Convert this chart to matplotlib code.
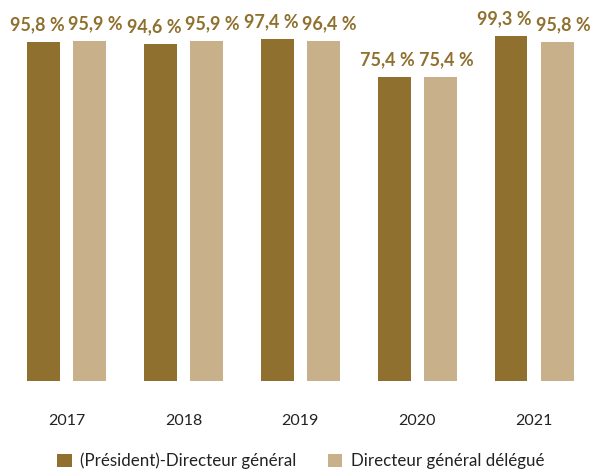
import matplotlib.pyplot as plt
from matplotlib.patches import Patch
import numpy as np

# Taux d'approbation des rémunérations
years = ["2017", "2018", "2019", "2020", "2021"]
pdg = [95.8, 94.6, 97.4, 75.4, 99.3]
dgd = [95.9, 95.9, 96.4, 75.4, 95.8]
series_names = ["(Président)-Directeur général", "Directeur général délégué"]

dark = "#8F702E"
light = "#C8B08A"
label_color = "#8F702E"

plt.rcParams["font.family"] = ["Lato", "DejaVu Sans"]

fig = plt.figure(figsize=(5.92, 4.70), dpi=100)
ax = fig.add_axes([0, 1 - 381 / 470, 1, 381 / 470])

base = -101.5
x = np.arange(len(years))
w = 0.282
off = 0.197

# labels sit slightly outward from each bar so the pairs don't collide
for vals, dx, col, shift in [(pdg, -off, dark, -4.5), (dgd, off, light, 4.5)]:
    heights = [v - base for v in vals]
    ax.bar(x + dx, heights, width=w, bottom=base, color=col, linewidth=0)
    for xi, v in zip(x + dx, vals):
        txt = f"{v:.1f}".replace(".", ",") + " %"
        ax.annotate(txt, (xi, v), xytext=(shift, 8.5), textcoords="offset points",
                    ha="center", va="baseline", fontsize=13, fontweight="bold",
                    color=label_color)

ax.set_xlim(-0.569, 4.496)
ax.set_ylim(base, base + 381 / 1.72)
ax.set_xticks(x)
ax.set_xticklabels(years, fontsize=11.5, color="#222222")
ax.tick_params(axis="x", length=0, pad=24)
ax.set_yticks([])
for s in ax.spines.values():
    s.set_visible(False)

handles = [Patch(facecolor=dark, edgecolor="none"), Patch(facecolor=light, edgecolor="none")]
fig.legend(handles, series_names, ncol=2, loc="center", bbox_to_anchor=(0.508, 1 - 461 / 470),
           frameon=False, fontsize=12.2, handlelength=0.84, handleheight=0.84,
           handletextpad=0.48, columnspacing=1.9, labelcolor="#222222",
           borderpad=0, borderaxespad=0)

fig.savefig("out.png", dpi=100)
